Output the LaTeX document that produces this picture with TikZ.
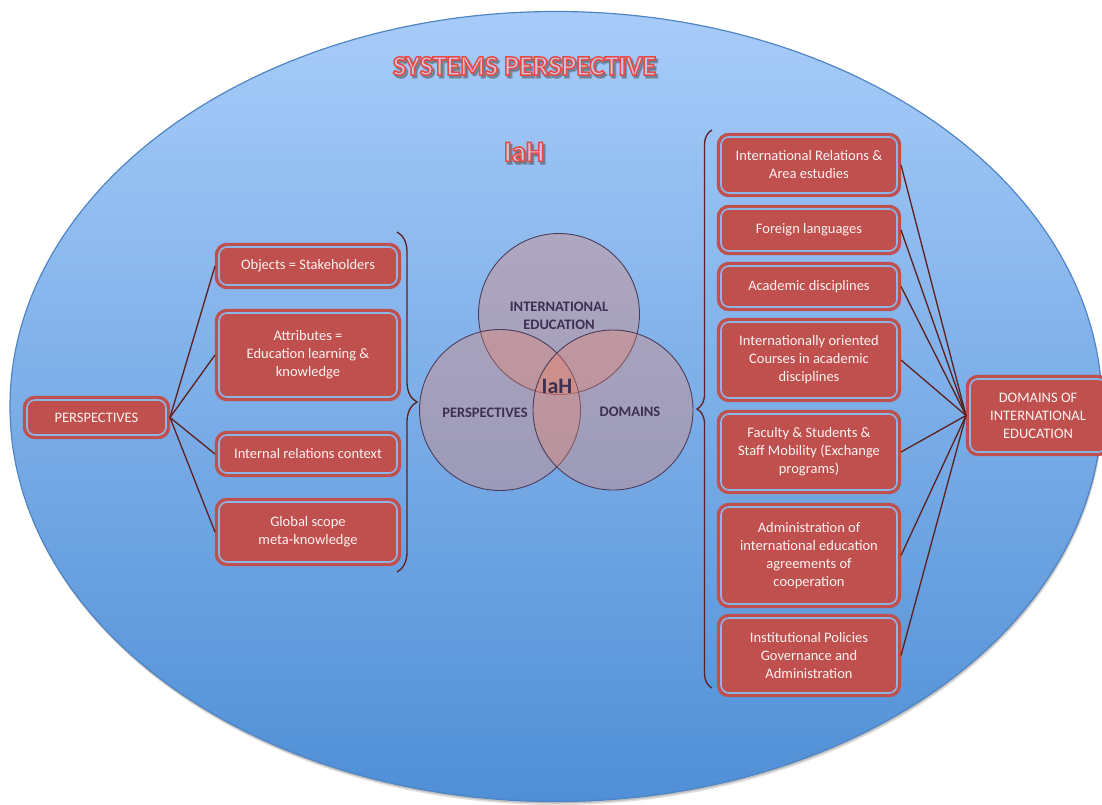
\documentclass[tikz,border=0pt]{standalone}
\usepackage{fontspec}
\setmainfont{Carlito}
\usetikzlibrary{decorations.pathreplacing}

\definecolor{boxred}{HTML}{C0504D}
\definecolor{boxline}{HTML}{8DB6E8}
\definecolor{boxtext}{HTML}{FDF2F2}
\definecolor{linkc}{HTML}{5E1F1E}
\definecolor{vennfill}{RGB}{236,132,105}
\definecolor{venntext}{HTML}{3D2F52}
\definecolor{vennline}{HTML}{4B3D5E}
\definecolor{skytop}{HTML}{A8CCF9}
\definecolor{skybot}{HTML}{4F8FD6}
\definecolor{rimblue}{HTML}{4F85C4}
\definecolor{titlefill}{HTML}{CCC4E4}

% outlined lettering: fill in the current colour, stroke in the given RGB triple
\newcommand\strokedtext[3]{%
  \special{pdf:literal direct 2 Tr #2 w #1 RG}#3\special{pdf:literal direct 0 Tr 0 w}}

\tikzset{
  rbox/.style={rounded corners=8pt, fill=boxred, draw=boxred, double=boxline,
    double distance=1.6pt, line width=3.4pt, text=boxtext, align=center,
    inner sep=0pt, outer sep=4pt, font=\fontsize{14.5}{18}\selectfont},
  link/.style={draw=linkc, line width=1.3pt},
  bracec/.style={draw=linkc, line width=1.3pt, decorate},
  vennc/.style={fill=vennfill, fill opacity=0.35, draw=vennline, line width=0.9pt},
  venntxt/.style={text=venntext, align=center, font=\bfseries\fontsize{14.5}{18}\selectfont},
  headline/.style={text=titlefill, font=\bfseries\fontsize{28}{30}\selectfont},
  headshadow/.style={text=black!75, opacity=0.35, font=\bfseries\fontsize{28}{30}\selectfont}
}

\begin{document}
\begin{tikzpicture}[x=1pt,y=-1pt]
\useasboundingbox (0,0) rectangle (1102,804);

% background system ellipse with a soft shadow
\fill[black, opacity=0.12] (557,410) ellipse [x radius=546pt, y radius=395pt];
\fill[black, opacity=0.15] (556.5,408.5) ellipse [x radius=546pt, y radius=395pt];
\shade[top color=skytop, bottom color=skybot, draw=rimblue, line width=1.2pt]
  (556,406.5) ellipse [x radius=546pt, y radius=395pt];

% headings
\node[headshadow] (titlesh) at (526.5,68.5) {\strokedtext{0.25 0.25 0.25}{2.2}{SYSTEMS PERSPECTIVE}};
\node[headline] (title) at (524.5,66) {\strokedtext{0.9 0.3 0.27}{1.5}{SYSTEMS PERSPECTIVE}};
\node[headshadow, font=\bfseries\fontsize{29}{32}\selectfont] (iahsh) at (526,154.5) {\strokedtext{0.25 0.25 0.25}{2.2}{IaH}};
\node[headline, font=\bfseries\fontsize{29}{32}\selectfont] (iahtitle) at (524,152) {\strokedtext{0.9 0.3 0.27}{1.5}{IaH}};

% Venn diagram: each disc is filled and outlined before the next one
\filldraw[vennc] (559,314) circle [radius=80.5pt];
\filldraw[vennc] (500,410) circle [radius=80.5pt];
\filldraw[vennc] (613,410) circle [radius=80pt];
\node[venntxt] (vie) at (559,316) {INTERNATIONAL\\EDUCATION};
\node[venntxt] (vpe) at (485,413) {PERSPECTIVES};
\node[venntxt] (vdo) at (630,412) {DOMAINS};
\node[venntxt, font=\bfseries\fontsize{22}{24}\selectfont] (viah) at (557,386) {IaH};

% perspectives branch
\node[rbox, minimum width=139pt, minimum height=35pt] (persp) at (96.5,417.5) {PERSPECTIVES};
\node[rbox, minimum width=178pt, minimum height=38pt] (obj) at (308,266) {Objects = Stakeholders};
\node[rbox, minimum width=178pt, minimum height=84pt] (attr) at (308,355) {Attributes =\\Education learning \&\\knowledge};
\node[rbox, minimum width=178pt, minimum height=38pt] (intr) at (308,454) {Internal relations context};
\node[rbox, minimum width=178pt, minimum height=60pt] (glob) at (308,532) {Global scope\\meta-knowledge};

\draw[link] (persp.east) -- (obj.west);
\draw[link] (persp.east) -- (attr.west);
\draw[link] (persp.east) -- (intr.west);
\draw[link] (persp.east) -- (glob.west);

\coordinate (lbtop) at (397,232);
\coordinate (lbbot) at (397,572);
\draw[bracec, decoration={brace, amplitude=20pt}] (lbtop) -- (lbbot);

% domains branch
\node[rbox, minimum width=136pt, minimum height=73pt] (dom) at (1038,415.5) {DOMAINS OF\\INTERNATIONAL\\EDUCATION};
\node[rbox, minimum width=176pt, minimum height=56pt] (ir) at (809,165) {International Relations \&\\Area estudies};
\node[rbox, minimum width=176pt, minimum height=42pt] (fl) at (809,230) {Foreign languages};
\node[rbox, minimum width=176pt, minimum height=41pt] (ad) at (809,286.5) {Academic disciplines};
\node[rbox, minimum width=176pt, minimum height=76pt] (io) at (809,360) {Internationally oriented\\Courses in academic\\disciplines};
\node[rbox, minimum width=176pt, minimum height=76pt] (fac) at (809,452) {Faculty \& Students \&\\Staff Mobility (Exchange\\programs)};
\node[rbox, minimum width=176pt, minimum height=97pt] (adm) at (809,555.5) {Administration of\\international education\\agreements of\\cooperation};
\node[rbox, minimum width=176pt, minimum height=75pt] (inst) at (809,655.5) {Institutional Policies\\Governance and\\Administration};

\foreach \b in {ir,fl,ad,io,fac,adm,inst}
  \draw[link] (\b.east) -- (dom.west);

\coordinate (rbtop) at (712,130);
\coordinate (rbbot) at (712,688);
\draw[bracec, decoration={brace, amplitude=15pt}] (rbbot) -- (rbtop);
\end{tikzpicture}
\end{document}
